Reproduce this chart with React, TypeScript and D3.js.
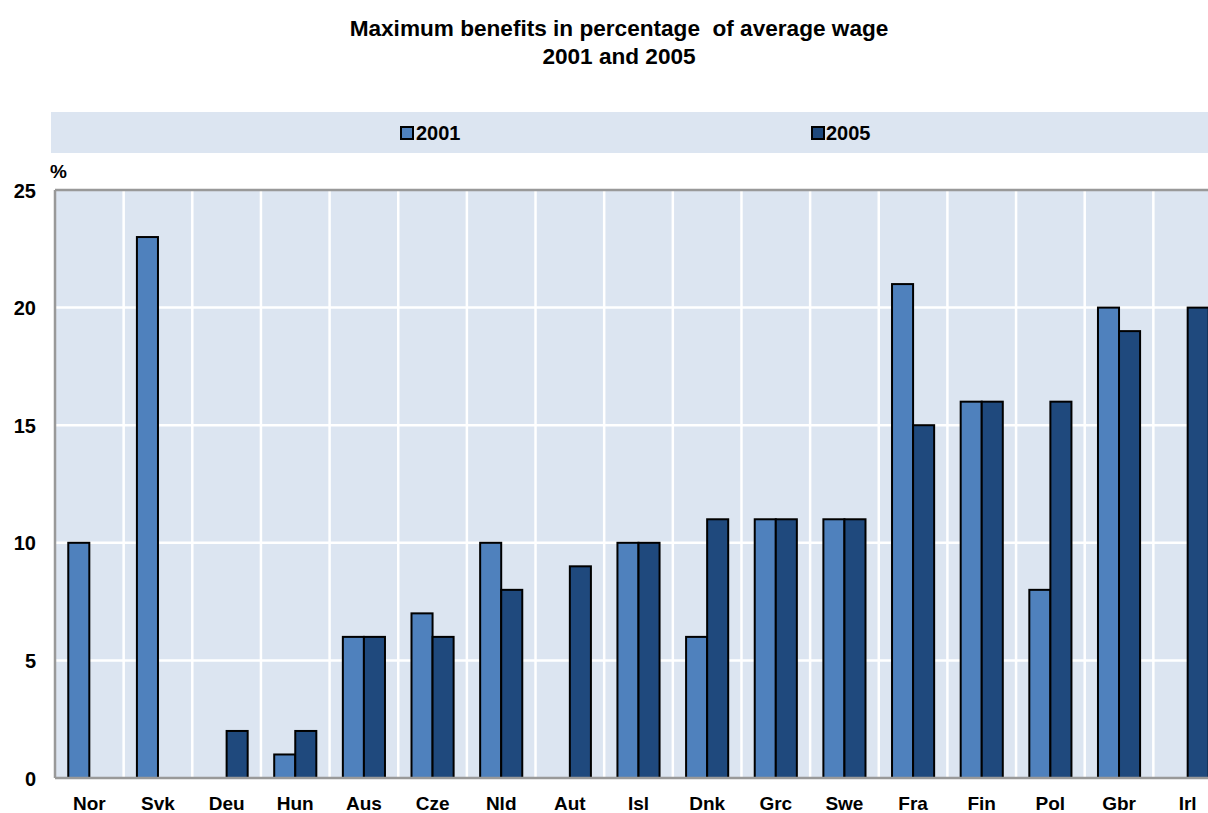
import React from "react";
import * as d3 from "d3";

const categories = ["Nor","Svk","Deu","Hun","Aus","Cze","Nld","Aut","Isl","Dnk","Grc","Swe","Fra","Fin","Pol","Gbr","Irl"];
const values2001: (number | null)[] = [10,23,null,1,6,7,10,null,10,6,11,11,21,16,8,20,null];
const values2005: (number | null)[] = [null,null,2,2,6,6,8,9,10,11,11,11,15,16,16,19,20];
const seriesNames = ["2001","2005"];
const yTicks = [0,5,10,15,20,25];
const titleLines = ["Maximum benefits in percentage\u00A0 of average wage","2001 and 2005"];

const W = 1208, H = 813;
const left = 55, right = 1222, top = 190, bottom = 778;
const colors = ["#4F81BD","#1F497D"];
const bg = "#DCE5F1";
const font = "'Liberation Sans', Arial, sans-serif";

export default function App() {
  const x = d3.scaleBand<string>().domain(categories).range([left, right]).paddingInner(0).paddingOuter(0);
  const inner = d3.scaleBand<string>().domain(seriesNames).range([0, x.bandwidth()]).paddingInner(0).paddingOuter(0.63);
  const y = d3.scaleLinear().domain([0,25]).range([bottom, top]);
  const series = [values2001, values2005];
  return (
    <svg width={W} height={H} style={{position:"absolute",left:0,top:0}} fontFamily={font} fontWeight="bold">
      <rect width={W} height={H} fill="#fff" />
      {titleLines.map((t,i)=>(
        <text key={i} x={619} y={36 + i*28} textAnchor="middle" fontSize={22.6} fill="#000">{t}</text>
      ))}
      <rect x={51} y={112} width={W-51} height={41} fill={bg} />
      {seriesNames.map((s,i)=>(
        <g key={s}>
          <rect x={[401,812][i]} y={127} width={12} height={12} fill={colors[i]} stroke="#000" strokeWidth={2} />
          <text x={[416,826][i]} y={140} fontSize={20} fill="#000">{s}</text>
        </g>
      ))}
      <rect x={left} y={top} width={right-left} height={bottom-top} fill={bg} />
      {categories.slice(1).map(c=>(
        <line key={c} x1={x(c)} x2={x(c)} y1={top} y2={bottom} stroke="#fff" strokeWidth={2.5} />
      ))}
      {yTicks.slice(1,-1).map(t=>(
        <line key={t} x1={left} x2={right} y1={y(t)} y2={y(t)} stroke="#fff" strokeWidth={2.5} />
      ))}
      {categories.map((c,ci)=> series.map((vals,si)=>{
        const v = vals[ci];
        if (v === null) return null;
        const bx = (x(c) as number) + (inner(seriesNames[si]) as number);
        return <rect key={c+si} x={bx} y={y(v)} width={inner.bandwidth()} height={bottom - y(v)} fill={colors[si]} stroke="#000" strokeWidth={2} />;
      }))}
      <line x1={left} x2={right} y1={top} y2={top} stroke="#999" strokeWidth={2.5} />
      <line x1={left} x2={left} y1={top} y2={bottom} stroke="#999" strokeWidth={2.5} />
      <line x1={left} x2={right} y1={bottom} y2={bottom} stroke="#999" strokeWidth={2.5} />
      {yTicks.map(t=>(
        <text key={t} x={36} y={y(t)+7.5} textAnchor="end" fontSize={20} fill="#000">{t}</text>
      ))}
      <text x={50} y={178} fontSize={19} fill="#000">%</text>
      {categories.map(c=>(
        <text key={c} x={(x(c) as number) + x.bandwidth()/2} y={810} textAnchor="middle" fontSize={19} fill="#000">{c}</text>
      ))}
    </svg>
  );
}
